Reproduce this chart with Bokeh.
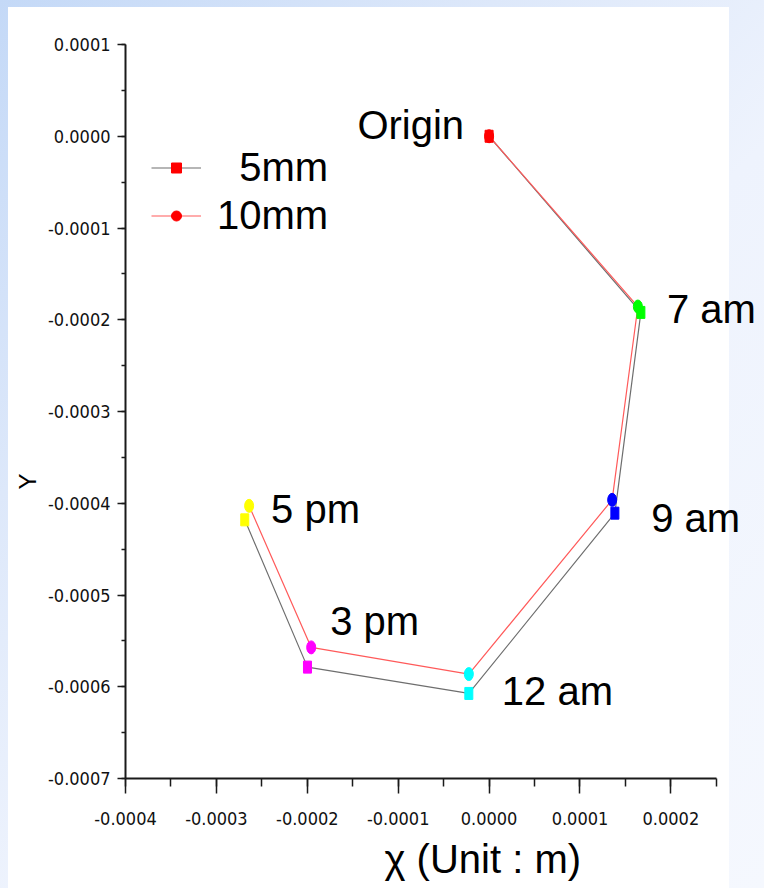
import math
from bokeh.plotting import figure
from bokeh.models import (ColumnDataSource, Range1d, SingleIntervalTicker, PrintfTickFormatter,
                          Legend, LegendItem, Title)
from bokeh.layouts import column
from bokeh.core.properties import value, field
from bokeh.embed import file_html
from bokeh.resources import INLINE

# ---------------- data ----------------
times = ["Origin", "7 am", "9 am", "12 am", "3 pm", "5 pm"]
x_5mm = [0.0, 1.67e-4, 1.384e-4, -0.223e-4, -1.998e-4, -2.688e-4]
y_5mm = [0.0, -1.92e-4, -4.108e-4, -6.073e-4, -5.786e-4, -4.181e-4]
x_10mm = [0.0, 1.637e-4, 1.354e-4, -0.223e-4, -1.957e-4, -2.640e-4]
y_10mm = [0.0, -1.856e-4, -3.963e-4, -5.862e-4, -5.571e-4, -4.028e-4]
series_names = ["5mm", "10mm"]
x_title = "χ (Unit : m)"
y_title = "Y"

# ---------------- styling ----------------
point_colors = ["#ff0000", "#00ff00", "#0000ff", "#00ffff", "#ff00ff", "#ffff00"]
label_dx = [-25, 29, 39, 33, 19, 22]
label_dy = [-11, 2, 18, 17, -26, 3]
label_align = ["right", "left", "left", "left", "left", "left"]

FONT = "Liberation Sans"
NARROW = "DejaVu Sans Condensed, Liberation Sans"

p = figure(width=764, height=888,
           x_range=Range1d(-0.0004, 0.000303), y_range=Range1d(-0.0007, 0.0001),
           output_backend="svg", toolbar_location=None, title=None,
           min_border_left=125, min_border_right=0, min_border_top=44, min_border_bottom=110,
           background_fill_color=None, border_fill_color=None)
p.outline_line_color = None
p.grid.visible = False

for ax in (p.xaxis[0], p.yaxis[0]):
    ax.ticker = SingleIntervalTicker(interval=0.0001, num_minor_ticks=2)
    ax.formatter = PrintfTickFormatter(format="%.4f")
    ax.major_label_text_font = NARROW
    ax.major_label_text_font_size = "18px"
    ax.major_label_text_color = "#111111"
    ax.axis_line_color = "#1a1a1a"
    ax.axis_line_width = 2
    ax.major_tick_line_color = "#1a1a1a"
    ax.minor_tick_line_color = "#1a1a1a"
    ax.major_tick_line_width = 1.5
    ax.minor_tick_line_width = 1.5
    ax.major_tick_in = 0
    ax.minor_tick_in = 0

p.xaxis.bounds = (-0.0004, 0.00025)
p.yaxis.major_tick_out = 8
p.yaxis.minor_tick_out = 4
p.yaxis.major_label_standoff = 7
p.xaxis.major_tick_out = 15
p.xaxis.minor_tick_out = 8
p.xaxis.major_label_standoff = 18

src5 = ColumnDataSource(dict(x=x_5mm, y=y_5mm, color=point_colors))
src10 = ColumnDataSource(dict(x=x_10mm, y=y_10mm, color=point_colors, label=times,
                              dx=label_dx, dy=label_dy, align=label_align))

line5 = p.line("x", "y", source=src5, line_color="#6e6e6e", line_width=1.2)
line10 = p.line("x", "y", source=src10, line_color="#ff5a5a", line_width=1.2)

p.rect("x", "y", width=8, height=12, width_units="screen", height_units="screen",
       source=src5, fill_color="color", line_color="color")
p.ellipse("x", "y", width=9, height=13, width_units="screen", height_units="screen",
          source=src10, fill_color="color", line_color="color")

p.text("x", "y", text="label", source=src10, x_offset="dx", y_offset="dy",
       text_align=field("align"), text_baseline="alphabetic",
       text_font=value(FONT), text_font_size="40px", text_color="black")

# legend (legend-only marker renderers, no visible data)
nan = float("nan")
leg5 = p.scatter(x=[nan], y=[nan], marker="square", size=10, color="red")
leg10 = p.scatter(x=[nan], y=[nan], marker="circle", size=10, color="red")
legend = Legend(items=[LegendItem(label="\u2007" + series_names[0], renderers=[line5, leg5]),
                       LegendItem(label=series_names[1], renderers=[line10, leg10])],
                location=(26, 540), orientation="vertical",
                label_text_font=FONT, label_text_font_size="40px", label_text_color="black",
                glyph_width=50, glyph_height=25, label_standoff=16,
                padding=0, margin=0, spacing=3,
                border_line_color=None, background_fill_alpha=0)
p.add_layout(legend)

p.add_layout(Title(text=x_title, align="left", offset=259, text_font=FONT,
                   text_font_size="40px", text_font_style="normal", text_color="black",
                   standoff=15), "below")
p.add_layout(Title(text=y_title, align="left", offset=289, text_font=FONT,
                   text_font_size="24px", text_font_style="normal", text_color="black",
                   standoff=10), "left")

bg = ("linear-gradient(#ffffff, #ffffff) 8px 7px / 721px 881px no-repeat, "
      "linear-gradient(135deg, #c4d9f7 0%, #dde8fa 30%, #eef3fd 55%, #f5f8fe 100%)")
layout = column(p, width=764, height=888, styles={"background": bg})

open("out.html", "w").write(file_html(layout, INLINE))
